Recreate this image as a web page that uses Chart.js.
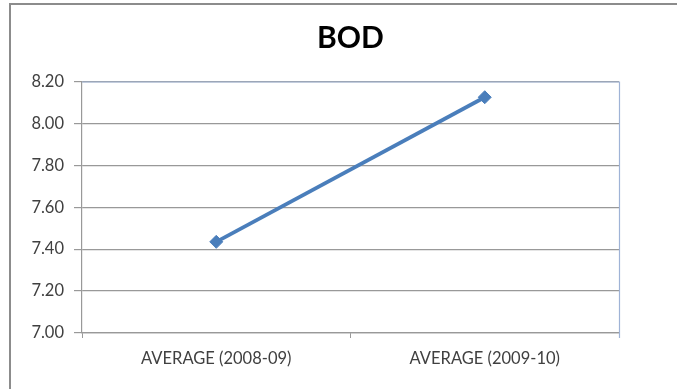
<!DOCTYPE html>
<html>
<head>
<meta charset="utf-8">
<script src="https://cdn.jsdelivr.net/npm/chart.js@4/dist/chart.umd.min.js"></script>
<style>
  html, body { margin: 0; padding: 0; background: #ffffff; }
  #wrap { position: relative; width: 677px; height: 389px; overflow: hidden; }
  #frame { position: absolute; left: 9px; top: 3px; right: -5px; bottom: -5px;
           border-left: 2px solid #8c8c8c; border-top: 2px solid #8c8c8c; pointer-events: none; }
  canvas { position: absolute; left: 0; top: 0; }
</style>
</head>
<body>
<div id="wrap">
  <canvas id="chart" width="677" height="389"></canvas>
  <div id="frame"></div>
</div>
<script>
// BOD averages by period
const categories = ['AVERAGE (2008-09)', 'AVERAGE (2009-10)'];
const bodValues = [7.435, 8.125];
const yTicks = [7.00, 7.20, 7.40, 7.60, 7.80, 8.00, 8.20];

const FONT = 'Lato, "Liberation Sans", sans-serif';

// light blue outline along the top and right of the plot area
const plotFrame = {
  id: 'plotFrame',
  afterDraw(chart) {
    const { ctx, chartArea: a } = chart;
    ctx.save();
    ctx.strokeStyle = '#9fb3d6';
    ctx.lineWidth = 1.2;
    ctx.beginPath();
    ctx.moveTo(a.left, a.top + 0.5);
    ctx.lineTo(a.right + 0.5, a.top + 0.5);
    ctx.lineTo(a.right + 0.5, a.bottom + 5);
    ctx.stroke();
    ctx.restore();
  }
};

new Chart(document.getElementById('chart'), {
  type: 'line',
  data: {
    labels: categories,
    datasets: [{
      label: 'BOD',
      data: bodValues,
      borderColor: '#4a7ebb',
      backgroundColor: '#4a7ebb',
      borderWidth: 3.8,
      pointStyle: 'rectRot',
      pointRadius: 6.5,
      pointHoverRadius: 6.5,
      pointBorderWidth: 1,
      tension: 0
    }]
  },
  options: {
    responsive: false,
    animation: false,
    devicePixelRatio: 1,
    layout: { padding: { left: 0, right: 58, top: 0, bottom: 0 } },
    plugins: {
      legend: { display: false },
      tooltip: { enabled: false },
      title: {
        display: true,
        text: 'BOD',
        fullSize: false,
        color: '#000000',
        font: { family: FONT, size: 30, weight: 'bold' },
        padding: { top: 20, bottom: 25.5 }
      }
    },
    scales: {
      x: {
        offset: true,
        grid: {
          offset: true,
          drawOnChartArea: false,
          drawTicks: true,
          tickLength: 5,
          color: '#999999'
        },
        border: { display: true, color: '#999999', width: 1.2 },
        ticks: {
          color: '#404040',
          padding: 11,
          maxRotation: 0,
          font: { family: FONT, size: 16.5 }
        },
        afterFit(scale) { scale.height = 56; }
      },
      y: {
        min: 7.0,
        max: 8.2,
        afterBuildTicks(scale) { scale.ticks = yTicks.map(v => ({ value: v })); },
        grid: {
          color: '#999999',
          lineWidth: 1.2,
          tickLength: 8,
          drawTicks: true
        },
        border: { display: true, color: '#999999', width: 1.2 },
        ticks: {
          color: '#404040',
          padding: 10,
          font: { family: FONT, size: 16.5 },
          callback: (v) => Number(v).toFixed(2)
        },
        afterFit(scale) { scale.width = 82; }
      }
    }
  },
  plugins: [plotFrame]
});
</script>
</body>
</html>
